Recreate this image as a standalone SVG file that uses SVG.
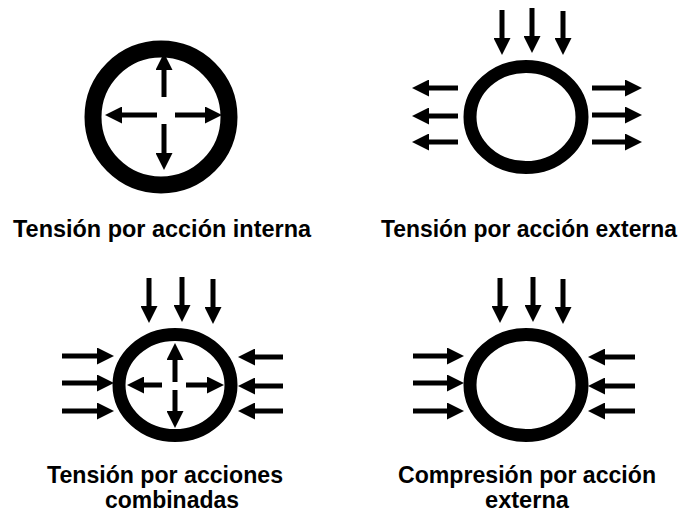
<svg xmlns="http://www.w3.org/2000/svg" width="686" height="512" viewBox="0 0 686 512">
<style>
.ring{fill:none;stroke:#000}
.ar{stroke:#000;stroke-width:5;fill:none;marker-end:url(#ah)}
.lbl{font-family:"Liberation Sans",Arial,sans-serif;font-weight:bold;font-size:24px;fill:#000;text-anchor:middle}
</style>
<defs>
<marker id="ah" viewBox="0 0 17 17" markerWidth="17" markerHeight="17" markerUnits="userSpaceOnUse" refX="1" refY="8.5" orient="auto">
<path d="M0,0 L17,8.5 L0,17 Z" fill="#000"/>
</marker>
</defs>
<rect width="686" height="512" fill="#fff"/>
<g id="internal">
<circle class="ring" cx="161" cy="117" r="68" stroke-width="17"/>
</g>
<g id="external">
<ellipse class="ring" cx="526" cy="117" rx="56" ry="50.5" stroke-width="13"/>
</g>
<g id="combined">
<ellipse class="ring" cx="175" cy="385" rx="56" ry="50.5" stroke-width="13"/>
</g>
<g id="compression">
<ellipse class="ring" cx="526" cy="385" rx="56" ry="50.5" stroke-width="13"/>
</g>
<g id="connectors">
<line class="ar" x1="164" y1="97" x2="164" y2="69"/>
<line class="ar" x1="157" y1="115" x2="121" y2="115"/>
<line class="ar" x1="175" y1="115" x2="206" y2="115"/>
<line class="ar" x1="164" y1="124" x2="164" y2="154"/>
<line class="ar" x1="502" y1="10" x2="502" y2="39"/>
<line class="ar" x1="532" y1="8" x2="532" y2="37"/>
<line class="ar" x1="563" y1="11" x2="563" y2="39"/>
<line class="ar" x1="458" y1="88" x2="428" y2="88"/>
<line class="ar" x1="458" y1="116" x2="428" y2="116"/>
<line class="ar" x1="458" y1="142" x2="428" y2="142"/>
<line class="ar" x1="592" y1="88" x2="626" y2="88"/>
<line class="ar" x1="592" y1="115" x2="626" y2="115"/>
<line class="ar" x1="592" y1="142" x2="626" y2="142"/>
<line class="ar" x1="149" y1="278" x2="149" y2="307"/>
<line class="ar" x1="182" y1="277" x2="182" y2="306"/>
<line class="ar" x1="213" y1="279" x2="213" y2="308"/>
<line class="ar" x1="62" y1="356" x2="98" y2="356"/>
<line class="ar" x1="62" y1="383" x2="98" y2="383"/>
<line class="ar" x1="62" y1="411" x2="98" y2="411"/>
<line class="ar" x1="283" y1="357" x2="254" y2="357"/>
<line class="ar" x1="283" y1="386" x2="254" y2="386"/>
<line class="ar" x1="283" y1="411" x2="254" y2="411"/>
<line class="ar" x1="175" y1="382" x2="175" y2="359"/>
<line class="ar" x1="162" y1="385" x2="143" y2="385"/>
<line class="ar" x1="186" y1="385" x2="208" y2="385"/>
<line class="ar" x1="175" y1="390" x2="175" y2="412"/>
<line class="ar" x1="500" y1="278" x2="500" y2="307"/>
<line class="ar" x1="533" y1="277" x2="533" y2="306"/>
<line class="ar" x1="563" y1="279" x2="563" y2="308"/>
<line class="ar" x1="413" y1="356" x2="448" y2="356"/>
<line class="ar" x1="413" y1="383" x2="448" y2="383"/>
<line class="ar" x1="413" y1="411" x2="448" y2="411"/>
<line class="ar" x1="635" y1="357" x2="604" y2="357"/>
<line class="ar" x1="635" y1="386" x2="604" y2="386"/>
<line class="ar" x1="635" y1="411" x2="604" y2="411"/>
</g>
<g id="labels">
<text class="lbl" x="162" y="237" textLength="298" lengthAdjust="spacingAndGlyphs">Tensión por acción interna</text>
<text class="lbl" x="529" y="237" style="font-size:23px" textLength="296" lengthAdjust="spacingAndGlyphs">Tensión por acción externa</text>
<text class="lbl" x="165" y="483" textLength="236" lengthAdjust="spacingAndGlyphs">Tensión por acciones</text>
<text class="lbl" x="172" y="508" textLength="134" lengthAdjust="spacingAndGlyphs">combinadas</text>
<text class="lbl" x="527" y="483" textLength="258" lengthAdjust="spacingAndGlyphs">Compresión por acción</text>
<text class="lbl" x="527" y="508" textLength="84" lengthAdjust="spacingAndGlyphs">externa</text>
</g>
</svg>
